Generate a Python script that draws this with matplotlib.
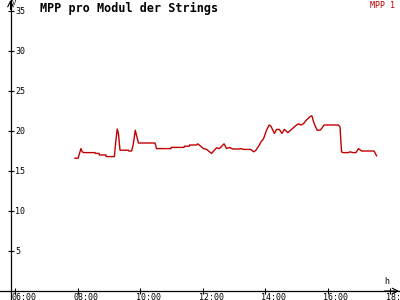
import matplotlib
matplotlib.use("Agg")
import matplotlib.pyplot as plt
import matplotlib.transforms as mtransforms

# time of day (decimal hours) and MPP voltage per module
hours = [7.92, 8.02, 8.11, 8.15, 8.20, 8.56, 8.57, 8.69, 8.70, 8.91, 8.92, 9.18,
         9.22, 9.27, 9.31, 9.36, 9.63, 9.64, 9.73, 9.78, 9.85, 9.88, 9.95, 10.48,
         10.53, 10.99, 11.00, 11.41, 11.42, 11.58, 11.59, 11.81, 11.85, 12.03, 12.13,
         12.29, 12.45, 12.54, 12.69, 12.77, 12.86, 12.97, 13.18, 13.22, 13.31, 13.54,
         13.64, 13.71, 13.82, 13.88, 13.95, 14.05, 14.13, 14.19, 14.30, 14.37, 14.46,
         14.54, 14.62, 14.73, 14.85, 14.96, 15.07, 15.15, 15.23, 15.31, 15.44, 15.50,
         15.57, 15.67, 15.76, 15.81, 15.89, 16.35, 16.40, 16.45, 16.49, 16.67, 16.72,
         16.81, 16.91, 16.99, 17.09, 17.49, 17.57]
volts = [16.6, 16.6, 17.8, 17.4, 17.3, 17.3, 17.2, 17.2, 17.0, 17.0, 16.8, 16.8,
         18.5, 20.25, 19.7, 17.6, 17.6, 17.5, 17.5, 18.25, 20.1, 19.6, 18.5, 18.5,
         17.8, 17.8, 17.95, 17.95, 18.1, 18.1, 18.25, 18.25, 18.4, 17.8, 17.7,
         17.2, 17.9, 17.8, 18.4, 17.8, 17.95, 17.75, 17.75, 17.8, 17.7, 17.7,
         17.4, 17.6, 18.25, 18.7, 19.0, 20.1, 20.75, 20.6, 19.7, 20.2, 20.2,
         19.7, 20.2, 19.8, 20.2, 20.6, 20.9, 20.75, 20.9, 21.3, 21.8, 21.9,
         20.95, 20.1, 20.1, 20.3, 20.75, 20.75, 20.5, 17.4, 17.3, 17.3, 17.4,
         17.3, 17.3, 17.8, 17.5, 17.5, 16.9]

y_ticks = [5, 10, 15, 20, 25, 30, 35]
x_ticks = [6, 8, 10, 12, 14, 16, 18]
x_labels = ["06:00", "08:00", "10:00", "12:00", "14:00", "16:00", "18:00"]

mono = "DejaVu Sans Mono"
red = "#c00000"
x0, x1 = 5.52, 18.32
y0, y1 = -1.125, 36.375
yaxis_at = 5.856

fig = plt.figure(figsize=(4, 3), dpi=100)
ax = fig.add_axes([0, 0, 1, 1])
ax.set_xlim(x0, x1)
ax.set_ylim(y0, y1)

ax.plot(hours, volts, color=red, lw=1.0)

# axes through the origin
ax.spines["top"].set_visible(False)
ax.spines["right"].set_visible(False)
ax.spines["left"].set_position(("data", yaxis_at))
ax.spines["bottom"].set_position(("data", 0))
for s in ("left", "bottom"):
    ax.spines[s].set_linewidth(0.9)
ax.set_xticks(x_ticks)
ax.set_yticks(y_ticks)
ax.tick_params(direction="inout", length=4, width=0.8,
               labelleft=False, labelbottom=False)

# arrow heads
ax.annotate("", xy=(yaxis_at, y1), xytext=(yaxis_at, y1 - 1.2),
            arrowprops=dict(arrowstyle="->", lw=0.8, color="black",
                            shrinkA=0, shrinkB=0))
ax.annotate("", xy=(x1 - 0.03, 0), xytext=(x1 - 0.5, 0),
            arrowprops=dict(arrowstyle="->", lw=0.8, color="black",
                            shrinkA=0, shrinkB=0))

# tick labels
ylab_tr = mtransforms.offset_copy(ax.transData, fig=fig, x=4.5, y=0, units="dots")
for v in y_ticks:
    ax.text(yaxis_at, v, str(v), transform=ylab_tr, ha="left", va="center",
            fontsize=6, family=mono)
xlab_tr = mtransforms.offset_copy(ax.transData, fig=fig, x=-4, y=-6, units="dots")
for h, lab in zip(x_ticks, x_labels):
    ax.text(h, 0, lab, transform=xlab_tr, ha="left", va="center",
            fontsize=6, family=mono)

# titles and unit labels
fig.text(40 / 400, 1 - 8 / 300, "MPP pro Modul der Strings", ha="left", va="center",
         fontsize=8.5, fontweight="bold", family=mono)
fig.text(395 / 400, 1 - 5 / 300, "MPP 1", ha="right", va="center",
         fontsize=6, color=red, family=mono)
fig.text(14 / 400, 1 - 3 / 300, "V", ha="center", va="center",
         fontsize=5, family=mono)
fig.text(387 / 400, 1 - 281 / 300, "h", ha="center", va="center",
         fontsize=6, family=mono)

fig.savefig("out.png", dpi=100)
